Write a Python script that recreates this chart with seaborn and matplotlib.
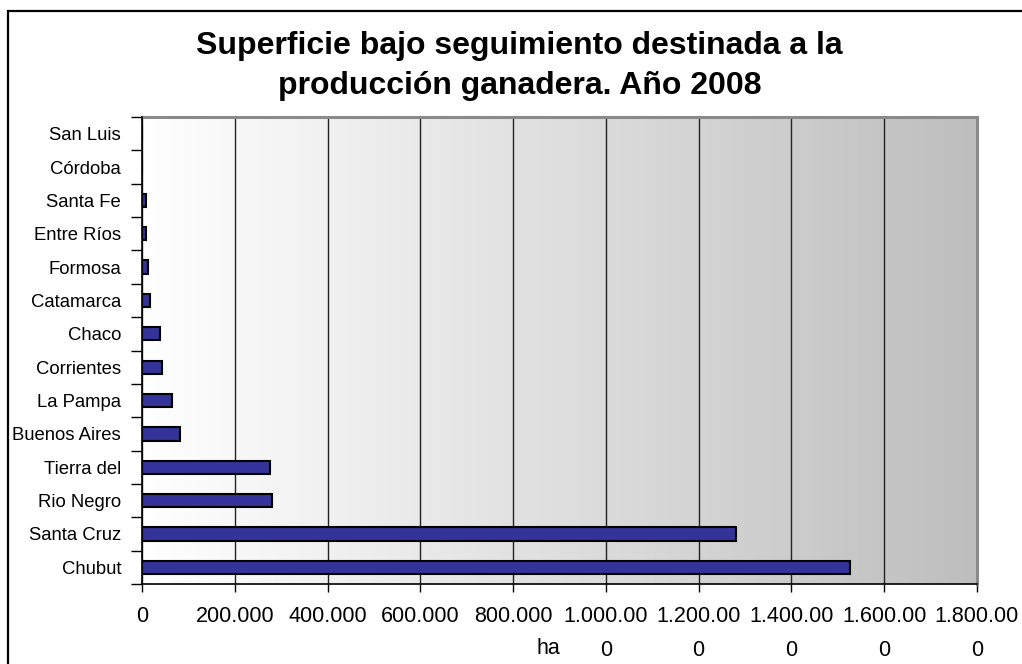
import matplotlib
matplotlib.use("Agg")
import matplotlib.pyplot as plt
import seaborn as sns
import numpy as np
import pandas as pd
from matplotlib.patches import Rectangle
from matplotlib.colors import LinearSegmentedColormap

# ---- data ----
provincias = ["San Luis", "Córdoba", "Santa Fe", "Entre Ríos", "Formosa", "Catamarca",
              "Chaco", "Corrientes", "La Pampa", "Buenos Aires", "Tierra del",
              "Rio Negro", "Santa Cruz", "Chubut"]
superficie_ha = [0, 0, 8600, 8600, 13000, 17000, 38800, 43000, 64700, 82000,
                 276000, 280300, 1281000, 1527000]
x_ticks = [0, 200000, 400000, 600000, 800000, 1000000, 1200000, 1400000, 1600000, 1800000]
x_tick_labels = ["0", "200.000", "400.000", "600.000", "800.000", "1.000.00\n0",
                 "1.200.00\n0", "1.400.00\n0", "1.600.00\n0", "1.800.00\n0"]
titulo = "Superficie bajo seguimiento destinada a la\nproducción ganadera. Año 2008"
x_label = "ha"

df = pd.DataFrame({"provincia": provincias, "ha": superficie_ha})

sns.set_theme(style="white")
plt.rcParams["font.family"] = ["Liberation Sans", "DejaVu Sans"]

W, H = 1022, 664
fig = plt.figure(figsize=(W / 100, H / 100), dpi=100)
fig.patch.set_facecolor("white")
ax = fig.add_axes([142 / W, 1 - 584 / H, (977 - 142) / W, (584 - 117) / H])

# gradient background
grad = np.linspace(0, 1, 256).reshape(1, -1)
cmap = LinearSegmentedColormap.from_list("bg", ["#ffffff", "#bebebe"])
n = len(provincias)
ax.imshow(grad, cmap=cmap, aspect="auto", extent=[0, x_ticks[-1], n - 0.5, -0.5],
          zorder=0, interpolation="bicubic")

sns.barplot(data=df, x="ha", y="provincia", orient="h", color="#333399",
            saturation=1, edgecolor="black", linewidth=1.5, width=0.4, ax=ax, zorder=2)

ax.set_xlim(0, x_ticks[-1])
ax.set_ylim(n - 0.5, -0.5)
ax.set_xticks(x_ticks)
ax.set_xticklabels(x_tick_labels, fontsize=15.5, color="black", linespacing=1.8)
for lbl in ax.get_xticklabels():
    lbl.set_verticalalignment("top")
ax.set_yticks(range(n))
ax.set_yticklabels(provincias, fontsize=13.3, color="black")
ax.set_yticks(np.arange(-0.5, n, 1.0), minor=True)
ax.tick_params(axis="y", which="major", length=0, pad=15)
ax.tick_params(axis="y", which="minor", length=8, width=1, color="black", direction="out", left=True)
ax.tick_params(axis="x", which="major", length=6, width=1, color="black", direction="out",
               bottom=True, pad=10)

ax.grid(axis="x", color="#222222", linewidth=1, zorder=1)
ax.grid(axis="y", visible=False)
ax.set_axisbelow(True)

for s in ["left", "bottom"]:
    ax.spines[s].set_color("black")
    ax.spines[s].set_linewidth(1.2)
    ax.spines[s].set_zorder(3)
for s in ["top", "right"]:
    ax.spines[s].set_color("#8a8a8a")
    ax.spines[s].set_linewidth(2.2)

ax.set_ylabel("")
ax.set_xlabel(x_label, fontsize=15.5, color="black")
ax.xaxis.set_label_coords(0.487, -(648 - 584) / (584 - 117))
ax.xaxis.label.set_verticalalignment("center")

fig.text(519.5 / W, 1 - 66 / H, titulo, ha="center", va="center", fontsize=23,
         fontweight="bold", color="black", linespacing=1.4)

fig.patches.append(Rectangle((8 / W, -0.2), 1.5, 1.2 - 11 / H, transform=fig.transFigure,
                             fill=False, edgecolor="black", linewidth=1.6))

fig.savefig("out.png", dpi=100, facecolor="white")
